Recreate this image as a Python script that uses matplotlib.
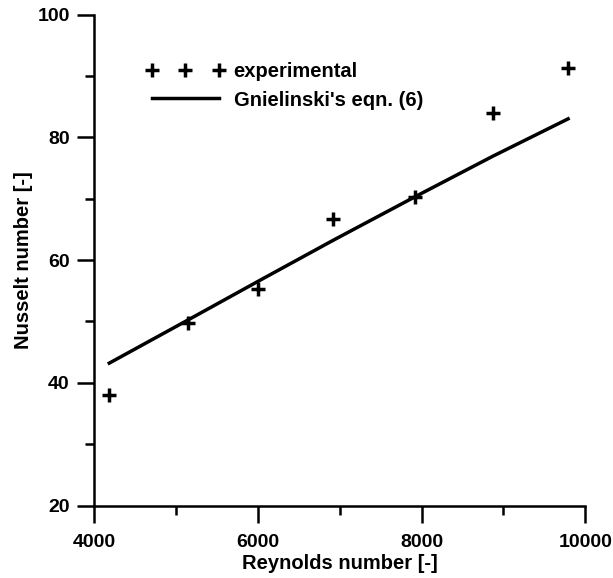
import matplotlib
matplotlib.use("Agg")
import matplotlib.pyplot as plt
from matplotlib.ticker import MultipleLocator

plt.rcParams['font.family'] = ['Liberation Sans', 'DejaVu Sans']
plt.rcParams['font.weight'] = 'bold'

# experimental data
re_exp = [4187, 5144, 5999, 6919, 7920, 8869, 9784]
nu_exp = [38.0, 49.7, 55.2, 66.7, 70.3, 83.9, 91.3]

# Gnielinski's eqn. (6)
re_gn = [4187, 5144, 6000, 6919, 7920, 8869, 9790]
nu_gn = [43.2, 50.2, 56.5, 63.2, 70.3, 76.9, 83.0]

x_ticks = [4000, 6000, 8000, 10000]
y_ticks = [20, 40, 60, 80, 100]

fig = plt.figure(figsize=(6.13, 5.78), dpi=100)
ax = fig.add_axes([0.1533, 0.1254, 0.8015, 0.8495])

ax.plot(re_exp, nu_exp, linestyle='none', marker='+', color='black',
        markersize=10, markeredgewidth=2.5, label='experimental')
ax.plot(re_gn, nu_gn, color='black', linewidth=2.5,
        label="Gnielinski's eqn. (6)")

ax.set_xlim(4000, 10000)
ax.set_ylim(20, 100)
ax.set_xticks(x_ticks)
ax.set_yticks(y_ticks)
ax.xaxis.set_minor_locator(MultipleLocator(1000))
ax.yaxis.set_minor_locator(MultipleLocator(10))

for s in ['top', 'right']:
    ax.spines[s].set_visible(False)
for s in ['left', 'bottom']:
    ax.spines[s].set_linewidth(1.8)

ax.tick_params(which='major', direction='out', length=12.5, width=1.8, labelsize=14)
ax.tick_params(which='minor', direction='out', length=6.5, width=1.8)
ax.tick_params(axis='x', which='major', pad=8)
ax.tick_params(axis='y', which='major', pad=5)

ax.set_xlabel('Reynolds number [-]', fontsize=14.5, fontweight='bold', labelpad=2)
ax.set_ylabel('Nusselt number [-]', fontsize=14.5, fontweight='bold', labelpad=3)

leg = ax.legend(loc='center left', bbox_to_anchor=(146 / 613, 1 - 86 / 578),
                bbox_transform=fig.transFigure, frameon=False, numpoints=3,
                fontsize=14.5, handlelength=3.9, handletextpad=0.45,
                labelspacing=0.45, borderpad=0, borderaxespad=0)

fig.savefig('out.png', dpi=100)
